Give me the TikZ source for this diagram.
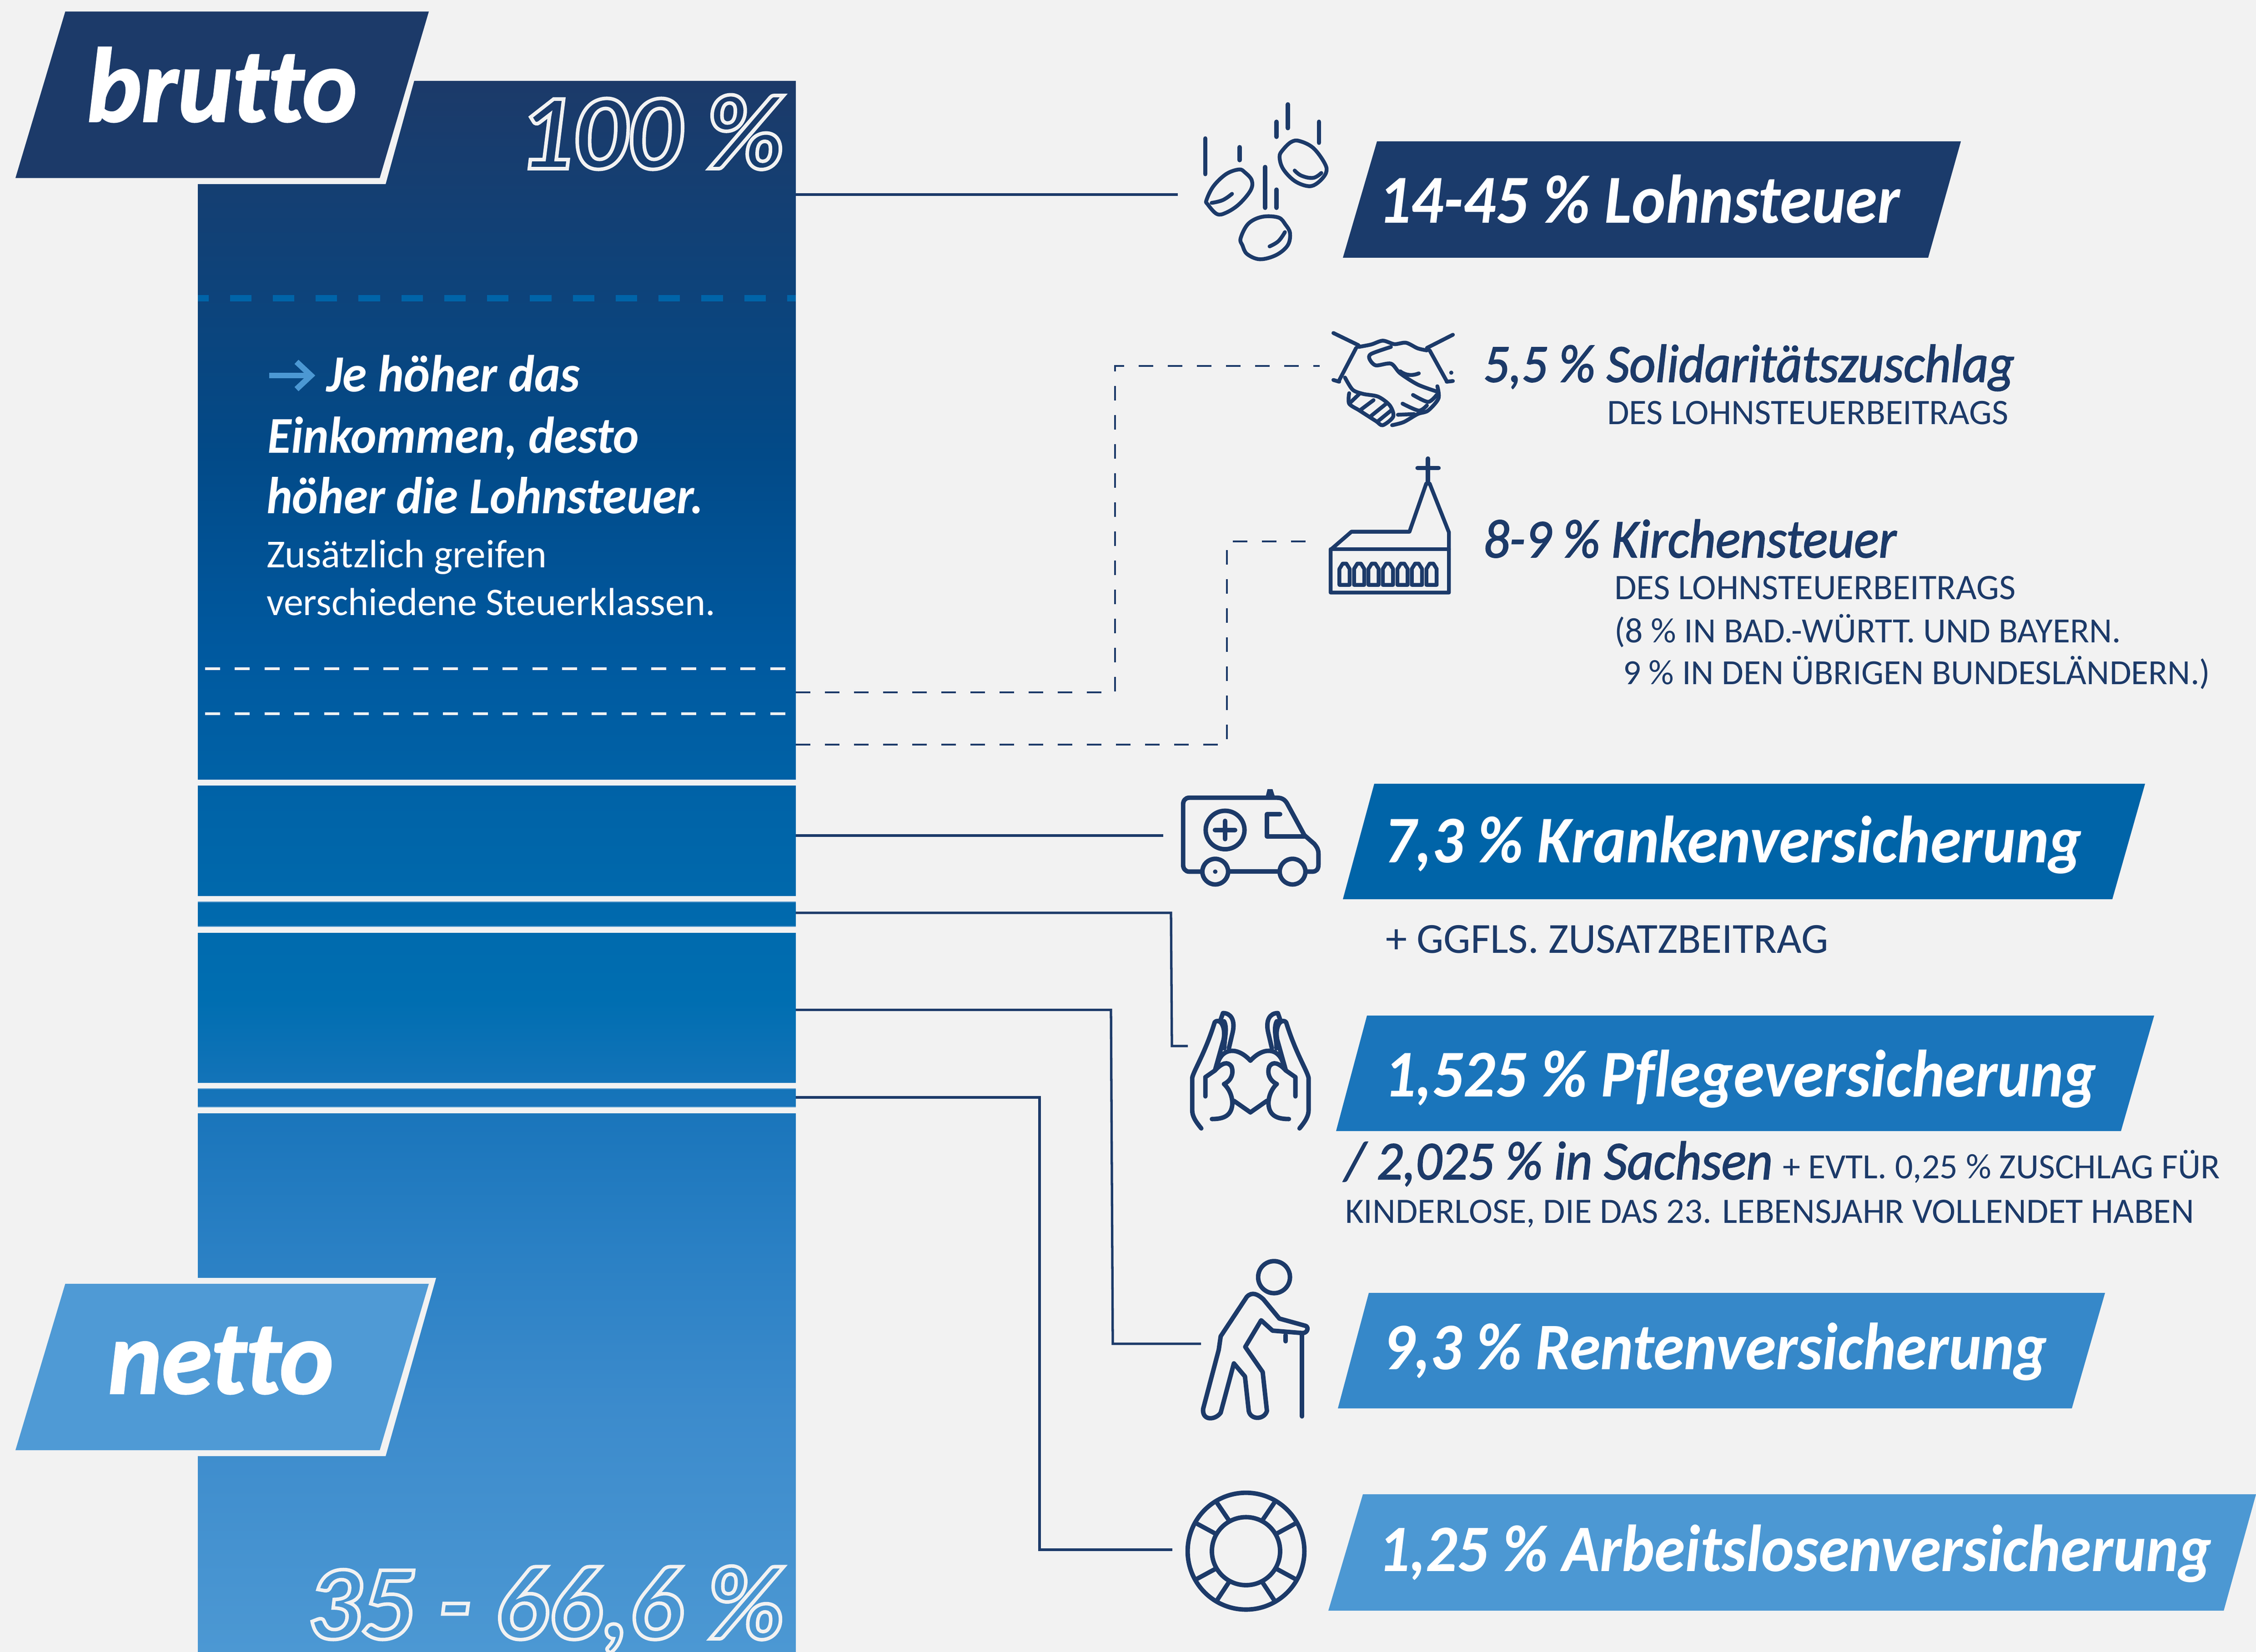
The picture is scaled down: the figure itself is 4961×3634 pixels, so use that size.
\documentclass[tikz,border=0pt]{standalone}
\usepackage{fontspec}
\setmainfont[Ligatures=NoCommon]{Carlito}
\newfontfamily\medf[Ligatures=NoCommon,ItalicFeatures={FakeBold=1.8}]{Carlito}
\newfontfamily\heavyf[Ligatures=NoCommon,BoldItalicFeatures={FakeBold=1.6}]{Carlito}
\definecolor{bgc}{HTML}{F2F2F2}
\definecolor{navy}{HTML}{1C3A69}
\definecolor{ca}{HTML}{1C3A69}
\definecolor{cb}{HTML}{024A88}
\definecolor{cc}{HTML}{00589E}
\definecolor{cd}{HTML}{0064A8}
\definecolor{ce}{HTML}{006EB1}
\definecolor{cf}{HTML}{1A75BB}
\definecolor{cg}{HTML}{2A80C4}
\definecolor{ch}{HTML}{3C8BCC}
\definecolor{ci}{HTML}{4C98D3}
\definecolor{nettoc}{HTML}{4F9AD5}
\pgfdeclareverticalshading{barshade}{100bp}{color(0bp)=(ci); color(25bp)=(ci); color(32.72bp)=(ch); color(37.79bp)=(cg); color(42.13bp)=(cf); color(45.75bp)=(ce); color(51.53bp)=(cd); color(57.32bp)=(cc); color(63.1bp)=(cb); color(75bp)=(ca); color(100bp)=(ca)}
\newcommand{\fitw}[2]{\resizebox{#1\dimexpr0.01cm\relax}{!}{#2}}
\newcommand{\fity}[3]{\resizebox{#1\dimexpr0.01cm\relax}{!}{\scalebox{1}[#2]{#3}}}
\newcommand{\outl}[1]{\special{pdf:code 1 Tr 2.4 w 0.95 0.95 0.95 RG}#1\special{pdf:code 0 Tr}}
\tikzset{x=0.01cm,y=0.01cm,
  lbl/.style={anchor=base west,inner sep=0pt,outer sep=0pt,font=\fontsize{40}{40}\selectfont},
  badgetext/.style={lbl,text=white,font=\fontsize{40}{40}\selectfont\bfseries\itshape},
  headtext/.style={lbl,text=navy,font=\fontsize{30}{30}\selectfont\medf\itshape},
  smalltext/.style={lbl,text=navy,font=\fontsize{20}{20}\selectfont},
  sidetext/.style={lbl,text=white,font=\fontsize{28}{28}\selectfont\bfseries\itshape},
  sidesmall/.style={lbl,text=white,font=\fontsize{24}{24}\selectfont},
  tagtext/.style={lbl,text=white,font=\fontsize{60}{60}\selectfont\heavyf\bfseries\itshape},
  outtext/.style={lbl,font=\fontsize{72}{72}\selectfont\bfseries\itshape},
  conn/.style={draw=navy,line width=1.5pt,line join=miter},
  dconn/.style={draw=navy,line width=1.3pt,dash pattern=on 9.1pt off 9.1pt},
  ico/.style={draw=navy,line width=2.8pt,line cap=round,line join=round},
  icothin/.style={draw=navy,line width=2.4pt,line cap=round,line join=round},
}
\begin{document}
\begin{tikzpicture}
\fill[bgc] (0,0) rectangle (4961,-3634);
\useasboundingbox (0,0) rectangle (4961,-3634);
% bar
\shade[shading=barshade] (435,-178) rectangle (1750,-1715)
 (435,-1728) rectangle (1750,-1971)
 (435,-1984) rectangle (1750,-2038)
 (435,-2052) rectangle (1750,-2382)
 (435,-2395) rectangle (1750,-2435)
 (435,-2449) rectangle (1750,-3634);
\draw[line width=0.5pt,draw=cf!70!white] (435,-1984) -- (1750,-1984) (435,-2038) -- (1750,-2038) (435,-2395) -- (1750,-2395) (435,-2435) -- (1750,-2435);
% dashes
\draw[draw=cd,line width=3.7pt,dash pattern=on 13.4pt off 13.4pt,dash phase=6.7pt] (435,-656) -- (1750,-656);
\draw[draw=bgc,line width=1.7pt,dash pattern=on 9.4pt off 9.2pt] (451,-1471) -- (1728,-1471);
\draw[draw=bgc,line width=1.7pt,dash pattern=on 9.4pt off 9.2pt] (451,-1570) -- (1728,-1570);
% tags
\fill[bgc] (130,-14) -- (956,-14) -- (848,-405) -- (0,-405) -- cycle;
\fill[navy] (143.5,-25.5) -- (943,-25.5) -- (835,-391.6) -- (34,-391.6) -- cycle;
\fill[bgc] (130,-2811) -- (959,-2811) -- (848,-3203) -- (0,-3203) -- cycle;
\fill[nettoc] (143.5,-2824) -- (943,-2824) -- (835,-3190) -- (34,-3190) -- cycle;
\node[tagtext] (brutto) at (191,-267) {\fity{594}{1.02}{brutto}};
\node[tagtext] (netto) at (238,-3065) {\fity{495}{1.03}{netto}};
\node[outtext] (hundert) at (1140,-371) {\fity{584}{1.0}{\outl{100 \%}}};
\node[outtext] (rest) at (676,-3605) {\fity{1048}{1.0}{\outl{35 - 66,6 \%}}};
% side text
\coordinate (arrA) at (592,-826);
\coordinate (arrB) at (684,-826);
\draw[draw=ci,line width=3.6pt] (arrA) -- (arrB);
\draw[draw=ci,line width=3.6pt,line join=miter] (652,-796) -- (684,-826) -- (652,-856);
\node[sidetext] (s1) at (718,-862) {\fity{557}{1.06}{Je höher das}};
\node[sidetext] (s2) at (588,-996) {\fity{817}{1.06}{Einkommen, desto}};
\node[sidetext] (s3) at (586,-1129) {\fity{961}{1.06}{höher die Lohnsteuer.}};
\node[sidesmall] (s4) at (586,-1248) {\fitw{616}{Zusätzlich greifen}};
\node[sidesmall] (s5) at (586,-1353) {\fitw{987}{verschiedene Steuerklassen.}};
% badges
\fill[navy!95!cb] (3028,-311) -- (4312,-311) -- (4240,-567) -- (2953,-567) -- cycle;
\fill[cd] (3022,-1724) -- (4717,-1724) -- (4645,-1978) -- (2953,-1978) -- cycle;
\fill[cf] (3006,-2234) -- (4737,-2234) -- (4664,-2488) -- (2938,-2488) -- cycle;
\fill[ch!90!ce] (3010,-2844) -- (4629,-2844) -- (4556,-3098) -- (2942,-3098) -- cycle;
\fill[ci] (2997,-3287) -- (4961,-3287) -- (4890,-3543) -- (2921,-3543) -- cycle;
\node[badgetext] (b1) at (3031,-491) {\fity{1147}{1.07}{14-45 \% Lohnsteuer}};
\node[badgetext] (b2) at (3044,-1897) {\fity{1534}{1.07}{7,3 \% Krankenversicherung}};
\node[badgetext] (b3) at (3044,-2412) {\fity{1566}{1.07}{1,525 \% Pflegeversicherung}};
\node[badgetext] (b4) at (3041,-3012) {\fity{1461}{1.07}{9,3 \% Rentenversicherung}};
\node[badgetext] (b5) at (3031,-3456) {\fity{1832}{1.07}{1,25 \% Arbeitslosenversicherung}};
% right texts
\node[headtext] (h1) at (3262,-840) {\fity{1168}{1.06}{5,5 \% Solidaritätszuschlag}};
\node[smalltext] (t1) at (3534,-934) {\fitw{883}{DES LOHNSTEUERBEITRAGS}};
\node[headtext] (h2) at (3262,-1226) {\fity{908}{1.06}{8-9 \% Kirchensteuer}};
\node[smalltext] (t2) at (3550,-1318) {\fitw{883}{DES LOHNSTEUERBEITRAGS}};
\node[smalltext] (t3) at (3550,-1413) {\fitw{1114}{(8 \% IN BAD.-WÜRTT. UND BAYERN.}};
\node[smalltext] (t4) at (3569,-1505) {\fitw{1291}{9 \% IN DEN ÜBRIGEN BUNDESLÄNDERN.)}};
\node[smalltext] (t5) at (3047,-2096) {\fitw{974}{+ GGFLS. ZUSATZBEITRAG}};
\node[headtext] (h3) at (2958,-2594) {\fity{940}{1.06}{/ 2,025 \% in Sachsen}};
\node[smalltext] (t6) at (3920,-2592) {\fitw{962}{+ EVTL. 0,25 \% ZUSCHLAG FÜR}};
\node[smalltext] (t7) at (2958,-2690) {\fitw{1867}{KINDERLOSE, DIE DAS 23. LEBENSJAHR VOLLENDET HABEN}};
% connectors
\coordinate (c1a) at (1750,-428); \coordinate (c1b) at (2590,-428);
\draw[conn] (c1a) -- (c1b);
\coordinate (d2a) at (1750,-1523); \coordinate (d2e) at (2452,-1523); \coordinate (d2f) at (2452,-805); \coordinate (d2b) at (2902,-805);
\draw[dconn] (d2a) -- (d2e) -- (d2f) -- (d2b);
\coordinate (d3a) at (1750,-1638); \coordinate (d3e) at (2698,-1638); \coordinate (d3f) at (2698,-1191); \coordinate (d3b) at (2871,-1191);
\draw[dconn] (d3a) -- (d3e) -- (d3f) -- (d3b);
\coordinate (c4a) at (1750,-1838); \coordinate (c4b) at (2558,-1838);
\draw[conn] (c4a) -- (c4b);
\coordinate (c5a) at (1750,-2008); \coordinate (c5e) at (2575,-2008); \coordinate (c5f) at (2577,-2301); \coordinate (c5b) at (2612,-2301);
\draw[conn] (c5a) -- (c5e) -- (c5f) -- (c5b);
\coordinate (c6a) at (1750,-2221.5); \coordinate (c6e) at (2443,-2221.5); \coordinate (c6f) at (2447,-2956); \coordinate (c6b) at (2641,-2956);
\draw[conn] (c6a) -- (c6e) -- (c6f) -- (c6b);
\coordinate (c7a) at (1750,-2414); \coordinate (c7e) at (2286,-2414); \coordinate (c7f) at (2286,-3409); \coordinate (c7b) at (2578,-3409);
\draw[conn] (c7a) -- (c7e) -- (c7f) -- (c7b);
% coins
\begin{scope}[shift={(2500,-180)},xscale=0.5102,yscale=0.7653]
\draw[ico] (295,-163)--(295,-265) (443,-188)--(443,-225) (553,-245)--(553,-362) (602,-310)--(602,-362) (602,-115)--(602,-158) (651,-65)--(651,-133) (785,-115)--(785,-175);
\draw[icothin] plot[smooth cycle,tension=.6] coordinates {(300,-340)(330,-300)(385,-265)(440,-252)(465,-260)(495,-283)(490,-312)(440,-352)(385,-376)(345,-380)(305,-352)};
\draw[icothin] plot[smooth,tension=.7] coordinates {(322,-348)(370,-340)(410,-322)};
\draw[icothin] plot[smooth cycle,tension=.6] coordinates {(615,-215)(630,-195)(665,-173)(700,-170)(760,-190)(810,-235)(815,-262)(780,-290)(740,-300)(680,-285)(630,-250)};
\draw[icothin] plot[smooth,tension=.7] coordinates {(680,-255)(710,-270)(760,-276)(795,-262)};
\draw[icothin] plot[smooth cycle,tension=.6] coordinates {(447,-450)(480,-408)(540,-388)(610,-390)(640,-410)(660,-435)(650,-470)(600,-498)(530,-510)(475,-495)(455,-470)};
\draw[icothin] plot[smooth,tension=.7] coordinates {(572,-473)(610,-458)(638,-432)};
% handshake
\draw[icothin] (847,-722)--(955,-757) (1362,-727)--(1250,-765) (945,-765)--(872,-858) (1262,-772)--(1335,-860);
\draw[icothin] (847,-857)--(872,-862) (1335,-862)--(1362,-860);
\fill[navy] (1355,-836) ellipse [x radius=9,y radius=6];
\draw[icothin] plot[smooth,tension=.5] coordinates {(955,-762)(1010,-755)(1060,-744)(1110,-754)(1160,-750)(1210,-766)(1250,-772)};
\draw[icothin] plot[smooth,tension=.5] coordinates {(1095,-762)(1010,-782)(1003,-797)(1030,-815)(1095,-810)(1135,-838)(1210,-870)(1292,-890)};
\draw[icothin] (1135,-832) .. controls (1160,-845) and (1190,-845) .. (1215,-838);
\draw[icothin] plot[smooth,tension=.5] coordinates {(897,-850)(930,-885)(975,-897)(1040,-905)(1090,-930)(1105,-962)(1060,-987)(1030,-975)(960,-945)(915,-925)(915,-895)};
\draw[icothin] (962,-895)--(915,-925) (1020,-915)--(960,-945) (1075,-925)--(1010,-960) (1095,-945)--(1040,-975);
\draw[icothin] plot[smooth,tension=.5] coordinates {(1295,-875)(1300,-910)(1255,-945)(1210,-955)(1150,-978)(1100,-987)};
\draw[icothin] plot[smooth,tension=.5] coordinates {(1190,-900)(1255,-920)(1292,-900)};
\draw[icothin] plot[smooth,tension=.5] coordinates {(1145,-925)(1215,-945)(1250,-930)};
\draw[icothin] (1125,-957)--(1195,-955);
% church
\draw[icothin] (835,-1345)--(925,-1293)--(1175,-1293)--(1247,-1155)--(1262,-1155)--(1345,-1295)--(1345,-1468)--(835,-1468)--cycle;
\draw[icothin] (835,-1343)--(1345,-1343);
\draw[ico] (1255,-1083)--(1255,-1152) (1210,-1110)--(1300,-1110);
\foreach \wx in {895,958,1020,1082,1145,1207,1270}{
 \draw[icothin] (\wx-22,-1446)--(\wx-22,-1400)--(\wx-8,-1385)--(\wx+8,-1385)--(\wx+22,-1400)--(\wx+22,-1446)--cycle;
}
\end{scope}
% ambulance and hands
\begin{scope}[shift={(2500,-1680)},xscale=0.3333,yscale=0.542]
\draw[ico] (420,-438)--(345,-438) .. controls (320,-438) and (305,-425) .. (305,-410) -- (305,-165) .. controls (305,-150) and (320,-138) .. (345,-138) -- (925,-138) .. controls (955,-138) and (975,-145) .. (990,-160) -- (1105,-290) -- (1170,-325) .. controls (1190,-340) and (1198,-350) .. (1198,-365) -- (1198,-410) .. controls (1198,-430) and (1180,-438) .. (1160,-438) -- (1125,-438);
\draw[ico] (615,-438)--(930,-438);
\draw[ico] (517,-438) ellipse [x radius=85,y radius=52];
\draw[ico] (1027,-438) ellipse [x radius=85,y radius=52];
\fill[navy] (517,-438) ellipse [x radius=15,y radius=9];
\draw[ico] (582,-269) ellipse [x radius=128,y radius=78];
\draw[ico] (515,-269)--(648,-269) (582,-232)--(582,-306);
\draw[ico] (945,-205)--(858,-205)--(858,-295)--(1110,-295);
\fill[navy] (850,-132)--(862,-103)--(895,-103)--(910,-132)--cycle;
\newcommand{\halfhands}{%
\draw[ico] (425,-1480) .. controls (385,-1450) and (365,-1430) .. (365,-1405) -- (365,-1275) .. controls (375,-1245) and (450,-1175) .. (513,-1050) .. controls (540,-1030) and (590,-1060) .. (572,-1120) -- (515,-1245) -- (452,-1272) -- (452,-1350);
\draw[ico] (552,-1040)--(568,-1012) .. controls (620,-1012) and (650,-1040) .. (632,-1090) -- (607,-1155);
\draw[ico] (575,-1045) .. controls (600,-1075) and (575,-1120) .. (577,-1155);
\draw[ico] (515,-1245) .. controls (560,-1215) and (600,-1205) .. (625,-1230) .. controls (640,-1255) and (625,-1285) .. (575,-1300) .. controls (610,-1320) and (630,-1350) .. (630,-1380) .. controls (625,-1430) and (570,-1442) .. (495,-1442);
\draw[ico] (530,-1225) .. controls (550,-1160) and (650,-1140) .. (749,-1205);
\draw[ico] (640,-1368)--(749,-1415);
}
\halfhands
\begin{scope}[shift={(1498,0)},xscale=-1]
\halfhands
\end{scope}
\end{scope}
% old man and lifebuoy
\begin{scope}[shift={(2500,-2720)},xscale=0.3333,yscale=0.542]
\draw[ico] (905,-165) ellipse [x radius=105,y radius=65];
\draw[ico] (437,-700)--(540,-460)--(553,-405)--(725,-245) .. controls (760,-222) and (800,-235) .. (835,-255) -- (940,-333) -- (1110,-362) .. controls (1135,-365) and (1130,-390) .. (1095,-392) -- (895,-382) -- (820,-340) -- (715,-448) -- (830,-550) -- (858,-708) .. controls (840,-745) and (750,-745) .. (738,-708) -- (713,-568) -- (640,-515) -- (553,-715) .. controls (520,-745) and (430,-750) .. (437,-700) -- cycle;
\draw[ico] (1090,-400)--(1090,-730) (982,-400)--(982,-425);
\draw[ico] (720,-1277) ellipse [x radius=385,y radius=237];
\draw[ico] (720,-1277) ellipse [x radius=225,y radius=138];
\draw[ico] (530,-1082)--(605,-1150) (905,-1082)--(830,-1150) (395,-1165)--(515,-1205) (1045,-1165)--(925,-1205) (395,-1390)--(515,-1350) (1045,-1390)--(925,-1350) (530,-1475)--(605,-1405) (905,-1475)--(830,-1405);
\end{scope}
\end{tikzpicture}
\end{document}
